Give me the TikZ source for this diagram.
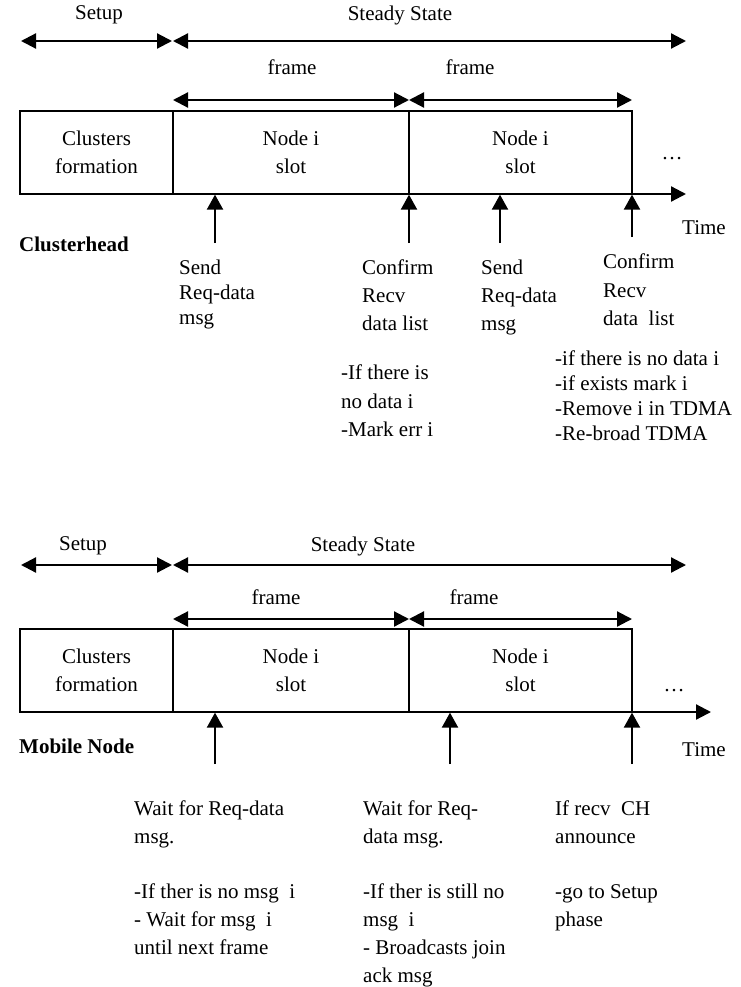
\documentclass[tikz,border=0pt]{standalone}
\usepackage{fontspec}
\setmainfont{Liberation Serif}
\usetikzlibrary{arrows.meta}

\begin{document}
\begin{tikzpicture}[x=1pt,y=-1pt,
  lbl/.style={inner sep=0pt,font=\fontsize{21}{26}\selectfont},
  note/.style={inner sep=0pt,anchor=north west,align=left,font=\fontsize{21}{#1}\selectfont},
  note/.default=28,
  cell/.style={draw,line width=1.3pt,minimum height=83pt,inner sep=0pt,align=center,font=\fontsize{21}{28}\selectfont},
  spanar/.style={line width=2.2pt,{Triangle[length=15pt,width=15pt]}-{Triangle[length=15pt,width=15pt]}},
  upar/.style={line width=2.2pt,-{Triangle[length=15pt,width=16pt]}},
  timeax/.style={line width=2.2pt,-{Triangle[length=15pt,width=15pt]}}]
\useasboundingbox (0,0) rectangle (740,987);

\node[lbl] (setupA) at (99,15) {Setup};
\node[lbl] (steadyA) at (400,15) {Steady State};
\coordinate (sa1) at (21,41);
\coordinate (sa2) at (172,41);
\coordinate (sa3) at (173,41);
\coordinate (sa4) at (686,41);
\draw[spanar] (sa1) -- (sa2);
\draw[spanar] (sa3) -- (sa4);
\node[lbl] (frameA1) at (292,67) {frame};
\node[lbl] (frameA2) at (470,67) {frame};
\coordinate (fa1) at (173,100);
\coordinate (fa2) at (409,100);
\coordinate (fa3) at (632,100);
\draw[spanar] (fa1) -- (fa2);
\draw[spanar] (fa2) -- (fa3);
\node[cell,minimum width=153pt] (cfA) at (96.5,152.5) {Clusters\\formation};
\node[cell,minimum width=236pt] (slotA1) at (291,152.5) {Node i\\slot};
\node[cell,minimum width=223pt] (slotA2) at (520.5,152.5) {Node i\\slot};
\node[lbl,anchor=base] (dotsA) at (672,160) {\ldots};
\coordinate (ta1) at (590,194);
\coordinate (ta2) at (686,194);
\draw[timeax] (ta1) -- (ta2);
\node[lbl,anchor=west] (timeA) at (682,228) {Time};
\node[lbl,anchor=west] (chead) at (19,244) {\textbf{Clusterhead}};
\coordinate (ua1) at (215,243);
\coordinate (ua2) at (409,243);
\coordinate (ua3) at (500,243);
\coordinate (ua4) at (632,237);
\draw[upar] (ua1) -- (ua1 |- slotA1.south);
\draw[upar] (ua2) -- (ua2 |- slotA1.south);
\draw[upar] (ua3) -- (ua3 |- slotA2.south);
\draw[upar] (ua4) -- (ua4 |- slotA2.south);
\node[note=25] (sendA1) at (179,260) {Send\\Req-data\\msg};
\node[note=28] (confA1) at (362,260) {Confirm\\Recv\\data list};
\node[note=28] (sendA2) at (481,260) {Send\\Req-data\\msg};
\node[note=28.5] (confA2) at (603,254) {Confirm\\Recv\\data\ \ list};
\node[note=28.5] (errA) at (341,365) {-If there is\\no data i\\-Mark err i};
\node[note=24.7] (rmA) at (555,351) {-if there is no data i\\-if exists mark i\\-Remove i in TDMA\\-Re-broad TDMA};

\node[lbl] (setupB) at (83,546) {Setup};
\node[lbl] (steadyB) at (363,546) {Steady State};
\coordinate (sb1) at (21,565);
\coordinate (sb2) at (172,565);
\coordinate (sb3) at (173,565);
\coordinate (sb4) at (686,565);
\draw[spanar] (sb1) -- (sb2);
\draw[spanar] (sb3) -- (sb4);
\node[lbl] (frameB1) at (276,597) {frame};
\node[lbl] (frameB2) at (474,597) {frame};
\coordinate (fb1) at (173,619);
\coordinate (fb2) at (409,619);
\coordinate (fb3) at (632,619);
\draw[spanar] (fb1) -- (fb2);
\draw[spanar] (fb2) -- (fb3);
\node[cell,minimum width=153pt] (cfB) at (96.5,670.5) {Clusters\\formation};
\node[cell,minimum width=236pt] (slotB1) at (291,670.5) {Node i\\slot};
\node[cell,minimum width=223pt] (slotB2) at (520.5,670.5) {Node i\\slot};
\node[lbl,anchor=base] (dotsB) at (674,691) {\ldots};
\coordinate (tb1) at (615,712);
\coordinate (tb2) at (711,712);
\draw[timeax] (tb1) -- (tb2);
\node[lbl,anchor=west] (timeB) at (682,750) {Time};
\node[lbl,anchor=west] (mnode) at (19,746) {\textbf{Mobile Node}};
\coordinate (ub1) at (215,764);
\coordinate (ub2) at (450,764);
\coordinate (ub3) at (632,764);
\draw[upar] (ub1) -- (ub1 |- slotB1.south);
\draw[upar] (ub2) -- (ub2 |- slotB2.south);
\draw[upar] (ub3) -- (ub3 |- slotB2.south);
\node[note] (waitB1) at (134,801) {Wait for Req-data\\msg.\\[27pt]-If ther is no msg\ \ i\\- Wait for msg\ \ i\\until next frame};
\node[note] (waitB2) at (363,801) {Wait for Req-\\data msg.\\[27pt]-If ther is still no\\msg\ \ i\\- Broadcasts join\\ack msg};
\node[note] (recvB) at (555,801) {If recv\ \ CH\\announce\\[27pt]-go to Setup\\phase};
\end{tikzpicture}
\end{document}
